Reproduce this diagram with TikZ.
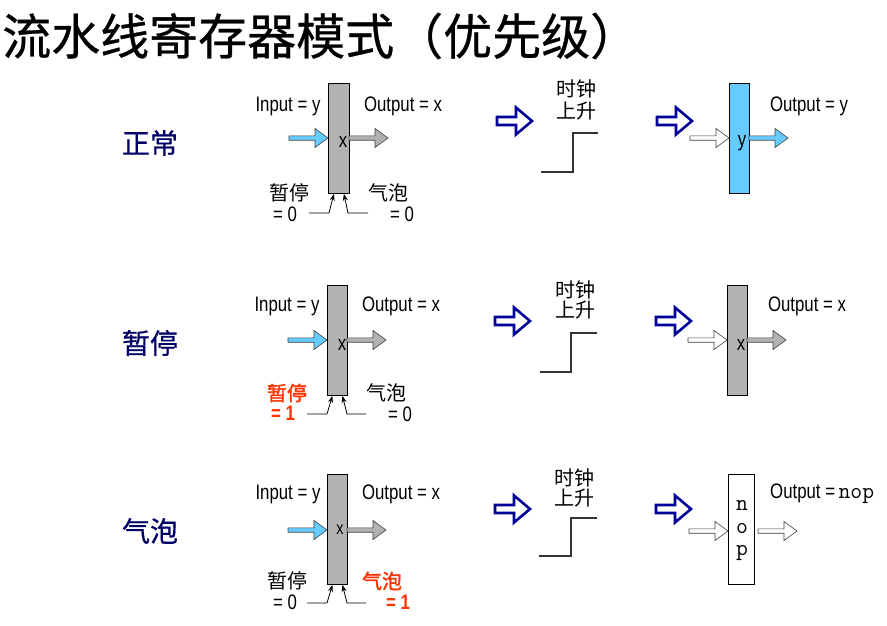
\documentclass[tikz,border=0pt]{standalone}
\usepackage{fontspec}
\setmainfont{Liberation Sans}
\newfontfamily\cf[FakeStretch=0.8]{Liberation Sans}
\newfontfamily\cjk{Noto Sans CJK SC}
\newfontfamily\cjkb[FakeBold=1.6]{Noto Sans CJK SC}
\newfontfamily\cjkm[FakeBold=0.6]{Noto Sans CJK SC}
\usetikzlibrary{arrows.meta}
\definecolor{navyc}{RGB}{0,0,153}
\definecolor{labnavy}{RGB}{0,0,102}
\definecolor{regray}{RGB}{178,178,178}
\definecolor{skyc}{RGB}{102,204,255}
\definecolor{redc}{RGB}{255,51,0}
\definecolor{stepc}{RGB}{51,51,51}
\tikzset{
  lbl/.style={font=\cf\fontsize{21}{21}\selectfont, inner sep=0pt},
  cn/.style={font=\cjk\fontsize{20}{20}\selectfont, inner sep=0pt},
  cnred/.style={font=\cjkb\fontsize{20}{20}\selectfont, inner sep=0pt, text=redc},
  lblred/.style={font=\cf\bfseries\fontsize{21}{21}\selectfont, inner sep=0pt, text=redc},
  rowlbl/.style={font=\cjkm\fontsize{28}{28}\selectfont, inner sep=0pt, text=labnavy},
  monolbl/.style={font=\ttfamily\fontsize{23}{22.5}\selectfont, inner sep=0pt, align=center},
  reg/.style={draw=black, line width=0.8pt, minimum width=21pt, minimum height=110pt, inner sep=0pt},
  small/.style={line width=0.8pt, -{Stealth[length=7pt,width=5pt]}},
  stepline/.style={draw=stepc, line width=1.4pt},
  barrow/.pic={\path[draw=black!75, line width=0.6pt, line join=miter, pic actions]
      (0,-2.2) -- (26,-2.2) -- (26,-9.5) -- (39,0) -- (26,9.5) -- (26,2.2) -- (0,2.2) -- cycle;},
  hollow/.pic={\draw[line width=2.6pt, draw=navyc, fill=white, line join=miter]
      (0,-4) -- (19,-4) -- (19,-13.5) -- (35,0) -- (19,13.5) -- (19,4) -- (0,4) -- cycle;}
}
\begin{document}
\begin{tikzpicture}[x=1pt,y=-1pt]
\useasboundingbox (0,0) rectangle (887,626);

% title
\node[font=\cjkm\fontsize{49}{49}\selectfont, inner sep=0pt, anchor=west] (title) at (2,36) {流水线寄存器模式（优先级）};

% row labels
\node[rowlbl] (l1) at (150,143) {正常};
\node[rowlbl] (l2) at (150,343) {暂停};
\node[rowlbl] (l3) at (150,531) {气泡};

% ---------- Row 1 ----------
\begin{scope}[shift={(328,83)}]
  \node[reg, fill=regray, anchor=north west] (r1) at (0,0) {};
  \node[lbl] (in1) at (-40,23) {Input = y};
  \node[lbl] (out1) at (75,23) {Output = x};
  \pic[fill=skyc] at (-39,55) {barrow};
  \pic[fill=regray] at (21,55) {barrow};
  \node[lbl] (x1) at (15,59) {x};
  \node[cn] (s1) at (-39,110) {暂停};
  \node[lbl] (s1v) at (-43,131) {= 0};
  \node[cn] (b1) at (60,110) {气泡};
  \node[lbl] (b1v) at (74,131) {= 0};
  \coordinate (a1) at (-19,130);
  \coordinate (c1) at (40,130);
  \draw[small] (a1) -- (1,130) -- ([xshift=-5pt]r1.south);
  \draw[small] (c1) -- (20,130) -- ([xshift=5pt]r1.south);
\end{scope}
\pic at (497,121) {hollow};
\node[cn] (k1a) at (576,89) {时钟};
\node[cn] (k1b) at (576,111) {上升};
\draw[stepline] (541,172) -- (573,172) -- (573,133) -- (598,133);
\pic at (657,121) {hollow};
\node[reg, fill=skyc, minimum width=20pt, anchor=north west] (q1) at (729,83) {};
\pic[fill=white] at (690,138) {barrow};
\pic[fill=skyc] at (749,138) {barrow};
\node[lbl] (y1) at (742,143) {y};
\node[lbl] (o1) at (809,106) {Output = y};

% ---------- Row 2 ----------
\begin{scope}[shift={(327,285)}]
  \node[reg, fill=regray, minimum width=20pt, anchor=north west] (r2) at (0,0) {};
  \node[lbl] (in2) at (-40,21) {Input = y};
  \node[lbl] (out2) at (74,21) {Output = x};
  \pic[fill=skyc] at (-39,55) {barrow};
  \pic[fill=regray] at (20,55) {barrow};
  \node[lbl] (x2) at (15,60) {x};
  \node[cnred] (s2) at (-40,108) {暂停};
  \node[lblred] (s2v) at (-44,128) {= 1};
  \node[cn] (b2) at (59,108) {气泡};
  \node[lbl] (b2v) at (73,129) {= 0};
  \coordinate (a2) at (-20,129);
  \coordinate (c2) at (39,129);
  \draw[small] (a2) -- (0,129) -- ([xshift=-5pt]r2.south);
  \draw[small] (c2) -- (20,129) -- ([xshift=5pt]r2.south);
\end{scope}
\pic at (495,321) {hollow};
\node[cn] (k2a) at (575,290) {时钟};
\node[cn] (k2b) at (575,310) {上升};
\draw[stepline] (540,372) -- (571,372) -- (571,333) -- (597,333);
\pic at (656,321) {hollow};
\node[reg, fill=regray, minimum width=20pt, anchor=north west] (q2) at (727,285) {};
\pic[fill=white] at (688,340) {barrow};
\pic[fill=regray] at (747,340) {barrow};
\node[lbl] (y2) at (741,345) {x};
\node[lbl] (o2) at (807,306) {Output = x};

% ---------- Row 3 ----------
\begin{scope}[shift={(327,474)}]
  \node[reg, fill=regray, minimum width=20pt, anchor=north west] (r3) at (0,0) {};
  \node[lbl] (in3) at (-39,20) {Input = y};
  \node[lbl] (out3) at (74,20) {Output = x};
  \pic[fill=skyc] at (-39,56) {barrow};
  \pic[fill=regray] at (20,56) {barrow};
  \node[lbl, font=\cf\fontsize{18}{18}\selectfont] (x3) at (13,56) {x};
  \node[cn] (s3) at (-40,107) {暂停};
  \node[lbl] (s3v) at (-42,128) {= 0};
  \node[cnred] (b3) at (55,107) {气泡};
  \node[lblred] (b3v) at (71,128) {= 1};
  \coordinate (a3) at (-20,129);
  \coordinate (c3) at (39,129);
  \draw[small] (a3) -- (0,129) -- ([xshift=-5pt]r3.south);
  \draw[small] (c3) -- (20,129) -- ([xshift=5pt]r3.south);
\end{scope}
\pic at (495,509) {hollow};
\node[cn] (k3a) at (574,478) {时钟};
\node[cn] (k3b) at (574,498) {上升};
\draw[stepline] (539,556) -- (571,556) -- (571,518) -- (597,518);
\pic at (656,509) {hollow};
\node[reg, fill=white, minimum width=26pt, anchor=north west] (q3) at (728,474) {};
\node[monolbl] (nop3) at (742,531) {n\\o\\p};
\pic[fill=white] at (689,531) {barrow};
\pic[fill=white] at (758,531) {barrow};
\node[lbl, anchor=west] (o3) at (770,494) {Output =\,{\ttfamily\fontsize{23}{23}\selectfont nop}};
\end{tikzpicture}
\end{document}
